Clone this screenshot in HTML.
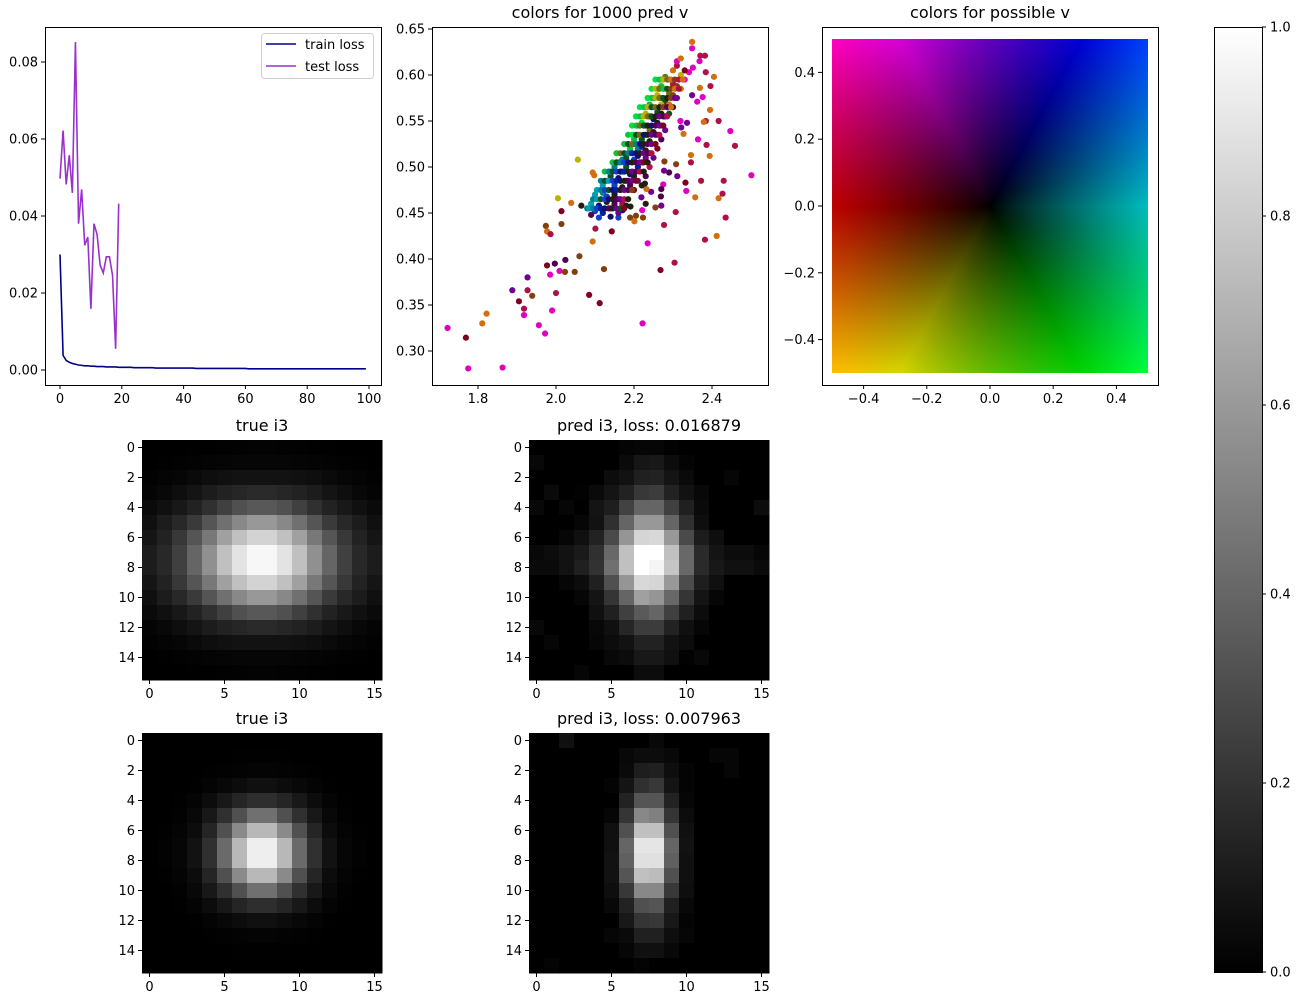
<!DOCTYPE html>
<html><head><meta charset="utf-8">
<style>
html,body{margin:0;padding:0;background:#fff;}
#wrap{position:relative;width:1300px;height:1000px;overflow:hidden;}
svg{position:absolute;left:0;top:0;font-family:"DejaVu Sans","Liberation Sans",sans-serif;}
canvas{position:absolute;}
</style></head>
<body>
<div id="wrap">
<svg id="svg" width="1300" height="1000"></svg>
<canvas id="cmap" width="316" height="334" style="left:832px;top:39px"></canvas>
</div>
<script>
// ---------- data ----------
const testLoss=[0.0497,0.0622,0.0482,0.0558,0.0460,0.0852,0.0380,0.0469,0.0324,0.0345,0.0159,0.0380,0.0352,0.0272,0.0252,0.0294,0.0294,0.0246,0.0055,0.0432];
const trainLoss=[0.0300,0.0038,0.0025,0.0020,0.0017,0.0015,0.0013,0.0012,0.0011,0.0011,0.0010,0.0010,0.0009,0.0009,0.0009,0.0008,0.0008,0.0008,0.0008,0.0007,
0.0007,0.0007,0.0007,0.0007,0.0006,0.0006,0.0006,0.0006,0.0006,0.0006,0.0006,0.0005,0.0005,0.0005,0.0005,0.0005,0.0005,0.0005,0.0005,0.0005,
0.0005,0.0005,0.0005,0.0005,0.0004,0.0004,0.0004,0.0004,0.0004,0.0004,0.0004,0.0004,0.0004,0.0004,0.0004,0.0004,0.0004,0.0004,0.0004,0.0004,
0.0004,0.0003,0.0003,0.0003,0.0003,0.0003,0.0003,0.0003,0.0003,0.0003,0.0003,0.0003,0.0003,0.0003,0.0003,0.0003,0.0003,0.0003,0.0003,0.0003,
0.0003,0.0003,0.0003,0.0003,0.0003,0.0003,0.0003,0.0003,0.0003,0.0003,0.0003,0.0003,0.0003,0.0003,0.0003,0.0003,0.0003,0.0003,0.0003,0.0003];
const lossXTicks=[0,20,40,60,80,100];
const lossYTicks=[0,0.02,0.04,0.06,0.08];

const scPalette=["#e000c0","#b0104a","#800020","#d07010","#804010","#700090","#500050","#101070","#1040d0","#008090","#00a0b0","#10c040","#105020","#707010","#c0b000","#202010","#00e040","#0020a0"];
const scX=[1.722,1.769,1.775,1.863,1.811,1.822,1.888,1.905,1.918,1.918,1.927,1.927,1.939,1.956,1.972,1.977,1.985,1.997,1.990,2.000,2.009,2.023,2.024,2.048,2.060,2.085,2.112,2.123,2.094,2.101,2.143,2.222,2.235,2.268,2.304,2.277,2.307,2.382,2.412,2.435,2.417,2.427,2.430,2.501,2.459,2.447,2.417,2.395,2.372,2.357,2.332,2.334,2.386,2.364,2.394,2.346,2.346,2.311,2.308,2.290,2.277,2.275,2.269,2.270,2.255,2.230,2.221,2.223,2.205,2.190,2.201,2.160,2.171,2.191,2.219,2.244,2.232,2.228,2.270,2.278,2.321,2.336,2.327,2.319,2.384,2.379,2.405,2.384,2.396,2.369,2.349,2.349,2.370,2.382,2.368,2.351,2.341,2.362,2.376,2.349,2.005,2.039,2.056,2.014,2.014,1.974,1.977,1.986,2.065,2.098,2.094,
2.08,2.09,2.10,2.11,2.12,2.13,2.14,2.15,2.10,2.12,2.13,2.15,2.16,2.17,2.09,2.11,2.14,2.18,2.16,2.12,
2.13,2.14,2.15,2.16,2.17,2.18,2.19,2.20,2.14,2.15,2.17,2.18,2.19,2.20,2.21,2.22,2.16,2.17,2.21,2.23,
2.18,2.19,2.20,2.21,2.22,2.23,2.24,2.19,2.20,2.21,2.22,2.23,2.24,2.25,2.20,2.21,2.22,2.23,2.24,2.26,
2.21,2.22,2.23,2.24,2.25,2.26,2.27,2.22,2.23,2.24,2.25,2.26,2.27,2.28,2.23,2.24,2.25,2.26,2.27,2.28,
2.25,2.26,2.27,2.28,2.29,2.30,2.26,2.27,2.28,2.29,2.30,2.31,2.27,2.28,2.29,2.30,2.31,2.32,2.30,2.31,2.32,2.33,2.31,2.32,2.33,2.29,2.27,
2.085,2.095,2.105,2.115,2.125,2.135,2.145,2.155,2.165,2.175,
2.095,2.105,2.115,2.125,2.135,2.145,2.155,2.165,2.175,2.185,
2.105,2.115,2.125,2.135,2.145,2.155,2.165,2.175,2.185,2.195,
2.115,2.125,2.135,2.145,2.155,2.165,2.175,2.185,2.195,2.205,
2.125,2.135,2.145,2.155,2.165,2.175,2.185,2.195,2.205,2.215,2.225,
2.145,2.155,2.165,2.175,2.185,2.195,2.205,2.215,2.225,2.235,
2.155,2.165,2.175,2.185,2.195,2.205,2.215,2.225,2.235,2.245,
2.175,2.185,2.195,2.205,2.215,2.225,2.235,2.245,2.255,
2.185,2.195,2.205,2.215,2.225,2.235,2.245,2.255,2.265,
2.195,2.205,2.215,2.225,2.235,2.245,2.255,2.265,2.275,
2.205,2.215,2.225,2.235,2.245,2.255,2.265,2.275,2.285,
2.215,2.225,2.235,2.245,2.255,2.265,2.275,2.285,2.295,
2.235,2.245,2.255,2.265,2.275,2.285,2.295,2.305,
2.245,2.255,2.265,2.275,2.285,2.295,2.305,2.315,
2.255,2.265,2.275,2.285,2.295,2.305,2.315,2.325];
const scY=[0.325,0.3145,0.281,0.282,0.330,0.3406,0.366,0.354,0.346,0.339,0.380,0.366,0.360,0.328,0.319,0.393,0.383,0.395,0.344,0.363,0.387,0.386,0.399,0.386,0.403,0.361,0.352,0.389,0.419,0.433,0.430,0.330,0.417,0.388,0.396,0.437,0.451,0.421,0.425,0.445,0.466,0.471,0.485,0.491,0.523,0.539,0.550,0.562,0.485,0.467,0.483,0.474,0.524,0.530,0.512,0.513,0.505,0.490,0.503,0.494,0.496,0.481,0.468,0.458,0.456,0.460,0.453,0.445,0.447,0.445,0.441,0.445,0.453,0.457,0.467,0.473,0.476,0.482,0.476,0.506,0.543,0.548,0.536,0.550,0.550,0.549,0.598,0.603,0.588,0.586,0.636,0.629,0.621,0.621,0.615,0.608,0.603,0.571,0.576,0.578,0.466,0.461,0.508,0.452,0.438,0.436,0.430,0.427,0.458,0.491,0.494,
0.455,0.46,0.452,0.458,0.45,0.462,0.455,0.46,0.47,0.472,0.468,0.47,0.465,0.46,0.448,0.445,0.446,0.458,0.45,0.48,
0.485,0.49,0.48,0.488,0.478,0.485,0.48,0.475,0.495,0.5,0.495,0.5,0.492,0.49,0.485,0.48,0.505,0.508,0.5,0.49,
0.51,0.515,0.508,0.512,0.505,0.51,0.5,0.52,0.525,0.52,0.522,0.518,0.515,0.51,0.53,0.535,0.53,0.535,0.528,0.52,
0.545,0.548,0.545,0.54,0.538,0.535,0.53,0.555,0.558,0.555,0.552,0.548,0.545,0.54,0.565,0.568,0.565,0.56,0.558,0.555,
0.575,0.578,0.575,0.57,0.568,0.565,0.585,0.588,0.585,0.58,0.578,0.575,0.595,0.598,0.595,0.59,0.588,0.585,0.605,0.61,0.6,0.605,0.615,0.618,0.595,0.558,0.568,
0.455,0.455,0.455,0.455,0.455,0.455,0.455,0.455,0.455,0.455,
0.465,0.465,0.465,0.465,0.465,0.465,0.465,0.465,0.465,0.465,
0.475,0.475,0.475,0.475,0.475,0.475,0.475,0.475,0.475,0.475,
0.485,0.485,0.485,0.485,0.485,0.485,0.485,0.485,0.485,0.485,
0.495,0.495,0.495,0.495,0.495,0.495,0.495,0.495,0.495,0.495,0.495,
0.505,0.505,0.505,0.505,0.505,0.505,0.505,0.505,0.505,0.505,
0.515,0.515,0.515,0.515,0.515,0.515,0.515,0.515,0.515,0.515,
0.525,0.525,0.525,0.525,0.525,0.525,0.525,0.525,0.525,
0.535,0.535,0.535,0.535,0.535,0.535,0.535,0.535,0.535,
0.545,0.545,0.545,0.545,0.545,0.545,0.545,0.545,0.545,
0.555,0.555,0.555,0.555,0.555,0.555,0.555,0.555,0.555,
0.565,0.565,0.565,0.565,0.565,0.565,0.565,0.565,0.565,
0.575,0.575,0.575,0.575,0.575,0.575,0.575,0.575,
0.585,0.585,0.585,0.585,0.585,0.585,0.585,0.585,
0.595,0.595,0.595,0.595,0.595,0.595,0.595,0.595];
const scC=[0,2,0,0,3,3,5,2,1,0,5,1,4,0,0,2,0,6,0,1,0,4,6,4,4,2,2,4,3,1,2,0,0,2,1,1,1,1,3,1,3,1,1,0,1,0,1,3,1,3,2,0,1,0,3,3,1,5,4,6,5,0,6,5,4,15,0,4,4,4,3,8,7,15,5,5,3,15,6,4,5,5,3,0,1,3,3,1,1,3,3,0,1,1,0,0,0,0,0,5,14,3,14,2,4,4,3,1,15,3,3,
9,10,8,7,17,15,5,6,10,9,8,15,6,1,6,8,7,15,5,10,
9,12,8,7,15,5,6,2,10,9,8,12,7,15,5,15,11,9,17,6,
12,9,8,7,15,5,1,11,12,9,17,15,6,5,11,13,12,7,15,2,
11,16,12,13,15,5,6,11,14,12,7,15,1,5,16,11,13,12,15,6,
11,14,13,12,3,15,16,11,14,13,4,5,16,13,3,1,4,3,3,1,14,2,0,3,0,12,14,
10,9,8,17,7,6,15,5,12,2,
9,10,12,8,7,15,6,5,1,15,
10,9,8,12,7,17,15,5,6,4,
9,12,10,8,17,7,15,6,5,2,
11,9,12,8,7,17,15,5,6,1,15,
11,12,9,8,7,15,6,5,2,15,
11,13,12,9,17,7,15,5,6,1,
11,12,13,9,7,15,6,5,2,
11,16,12,13,7,15,5,6,1,
16,11,13,12,15,7,6,5,2,
16,11,14,13,12,15,5,6,1,
16,11,14,12,13,15,4,6,3,
16,11,14,13,12,15,4,5,
16,14,13,11,12,4,3,1,
16,11,14,13,3,4,1,3];
const scXTicks=[1.8,2.0,2.2,2.4];
const scYTicks=[0.30,0.35,0.40,0.45,0.50,0.55,0.60,0.65];
const sqTicks=[-0.4,-0.2,0.0,0.2,0.4];

const trueA=[
"000000010102020303020201010000 00",
"00010203040506060606050403020100",
"02040 60a0e101212121210 0e0a060402",
"04080e141c22262a2a26221c140e0804",
"0a10182230405058585040302218100a",
"101c283a5570889898887055 3a281c10",
"1522385578a0c0d3d3c0a07855382215",
"1c28406590c0e3f7f7e3c0906540281c",
"1c28406590c0e3f7f7e3c0906540281c",
"1522385578a0c0d3d3c0a07855382215",
"101c283a5570889898887055 3a281c10",
"0a10182230405058585040302218100a",
"04080e141c22262a2a26221c140e0804",
"02040 60a0e101212121210 0e0a060402",
"00010203040506060606050403020100",
"000000010102020303020201010000 00"];
const predA=[
"0000000000000406060200000000 0000",
"08000000000 00a16180c040000000000",
"0000000000 0c1220221 40a00000600 00",
"000a00020a1422383c22120800000000",
"08000600141e42656540200a0000000c",
"0000000612306598986530 0e00000000",
"000006102 24a95d5d8984a1c0e000000",
"080c121a3068c0ffffc0682a140c0c06",
"0a0a12203270c0fff5c5682a1810100a",
"0000060c205095d8d5984c1e10000000",
"00000006143565a09568351406000000",
"00000000102040 5a6540200c00000000",
"080000000810263c3c22100600000000",
"000600000 60c1222221 20c0000000000",
"000000000 0080c18181002080000000000",
"000000060000000c0c00000000000000"];
const trueB=[
"00000000000000000000000000000000",
"00000000000001010101000000000000",
"00000000010203040403020100000000",
"0000000104080c10100c080401000000",
"000001040c18252e2e25180c04010000",
"00000208183050707050301808020000",
"0001040c25508ab8b88a50250c040100",
"00020612306ab8eeeeb86a3012060200",
"00020612306ab8eeeeb86a3012060200",
"0001040c25508ab8b88a50250c040100",
"00000208183050707050301808020000",
"000001040c18252e2e25180c04010000",
"0000000104080c10100c080401000000",
"00000000010203040403020100000000",
"00000000000001010101000000000000",
"00000000000000000000000000000000"];
const predB=[
"00001000000000000800000000000000",
"000000000000080c0c08000006060000",
"0000000000000a1e200e040000060000",
"00000000000414303814040000000000",
"00000000000022555522060000000000",
"000000000006358880350c0000000000",
"000000000010 50c0c050100000000000",
"00000000001065e5e565120000000000",
"00000000001260e0e060100000000000",
"0000000000125 5c0bc50100000000000",
"00000000000e388888380e0000000000",
"00000000000822505520080000000000",
"00000000000018353818040000000000",
"0000000000060a20200e060000000000",
"00000000000006101008000000000000",
"00040000000000040000000000000000"];
const imgTicksY=[0,2,4,6,8,10,12,14];
const imgTicksX=[0,5,10,15];
const cbTicks=[0,0.2,0.4,0.6,0.8,1.0];

// ---------- helpers ----------
const NS="http://www.w3.org/2000/svg";
const svg=document.getElementById('svg');
function mk(tag,attrs,parent){const e=document.createElementNS(NS,tag);for(const k in attrs)e.setAttribute(k,attrs[k]);(parent||svg).appendChild(e);return e;}
function lin(d0,d1,r0,r1){return v=>r0+(v-d0)*(r1-r0)/(d1-d0);}
function txt(x,y,s,anchor,size,name,parent){const t=mk('text',{x:x,y:y,'text-anchor':anchor,'font-size':size,fill:'#000'},parent);t.textContent=s;return t;}
function parseRow(s){s=s.replace(/ /g,'');const out=[];for(let i=0;i<16;i++){const h=s.substr(i*2,2);out.push(h.length===2?parseInt(h,16)||0:0);}return out;}
function frame(x0,y0,x1,y1,name){const r=mk('rect',{x:x0+0.5,y:y0+0.5,width:x1-x0,height:y1-y0,fill:'none',stroke:'#000','stroke-width':1});}
function xtick(g,x,y,label,name){mk('line',{x1:x,y1:y,x2:x,y2:y+4,stroke:'#000'},g);txt(x,y+18,label,'middle',13,name,g);}
function ytick(g,x,y,label,name){mk('line',{x1:x-4,y1:y,x2:x,y2:y,stroke:'#000'},g);txt(x-7,y+4.5,label,'end',13,name,g);}

// ---------- loss plot ----------
(function(){
const g=mk('g',{});
const X=lin(0,100,60,369),Y=lin(0,0.08,370,62);
lossXTicks.forEach(v=>xtick(g,X(v),385,String(v),'loss-x-tick'));
lossYTicks.forEach(v=>ytick(g,45,Y(v),v.toFixed(2),'loss-y-tick'));
const p1=mk('polyline',{points:trainLoss.map((v,i)=>X(i)+','+Y(v)).join(' '),fill:'none',stroke:'#00008b','stroke-width':1.6},g);

const p2=mk('polyline',{points:testLoss.map((v,i)=>X(i)+','+Y(v)).join(' '),fill:'none',stroke:'#9932cc','stroke-width':1.6},g);

const lg=mk('g',{},g);
mk('rect',{x:261.5,y:33.5,width:112,height:45,rx:3,fill:'#fff',stroke:'#d0d0d0'},lg);
mk('line',{x1:266,y1:44,x2:296,y2:44,stroke:'#00008b','stroke-width':1.6},lg);
txt(305,49,'train loss','start',13,'legend-entry-train',lg);
mk('line',{x1:266,y1:66,x2:296,y2:66,stroke:'#9932cc','stroke-width':1.6},lg);
txt(305,71,'test loss','start',13,'legend-entry-test',lg);
frame(45,27,381,385,'loss-axes-frame');
})();

// ---------- scatter ----------
(function(){
const g=mk('g',{});
const X=lin(2.0,2.4,556,712),Y=lin(0.30,0.65,351,29);
scXTicks.forEach(v=>xtick(g,X(v),385,v.toFixed(1),'scatter-x-tick'));
scYTicks.forEach(v=>ytick(g,432,Y(v),v.toFixed(2),'scatter-y-tick'));
for(let i=0;i<scX.length;i++){
 const c=mk('circle',{cx:X(scX[i]),cy:Y(scY[i]),r:3.1,fill:scPalette[scC[i]]},g);
 
 
}
txt(600,18,'colors for 1000 pred v','middle',16,'scatter-title',g);
frame(432,27,768,385,'scatter-axes-frame');
})();

// ---------- color square ----------
(function(){
const g=mk('g',{});
const X=lin(-0.5,0.5,832,1148),Y=lin(-0.5,0.5,373,39);
sqTicks.forEach(v=>xtick(g,X(v),385,v.toFixed(1).replace('-','\u2212'),'square-x-tick'));
sqTicks.forEach(v=>ytick(g,822,Y(v),v.toFixed(1).replace('-','\u2212'),'square-y-tick'));
txt(990,18,'colors for possible v','middle',16,'square-title',g);
frame(822,27,1158,385,'square-axes-frame');
const cv=document.getElementById('cmap'),ctx=cv.getContext('2d'),W=316,H=334,im=ctx.createImageData(W,H);
function hsv(h,s,v){const f=(n)=>{const k=(n+h/60)%6;return v-v*s*Math.max(0,Math.min(k,4-k,1));};return [f(5),f(3),f(1)];}
for(let j=0;j<H;j++)for(let i=0;i<W;i++){
 const u=-0.5+i/W,w=0.5-j/H;const ang=Math.atan2(w,u)*180/Math.PI;
 const h=((180+ang)%360+360)%360;const r=Math.sqrt(u*u+w*w);const v=Math.min(1,Math.pow(r/0.707,0.85));
 const c=hsv(h,1,v);const o=(j*W+i)*4;im.data[o]=c[0]*255;im.data[o+1]=c[1]*255;im.data[o+2]=c[2]*255;im.data[o+3]=255;}
ctx.putImageData(im,0,0);
})();

// ---------- heatmaps ----------
function heat(data,x0,y0,title,name){
 const g=mk('g',{});
 const cs=15;
 data.forEach((row,r)=>{parseRow(row).forEach((v,c)=>{
  const cell=mk('rect',{x:x0+c*cs,y:y0+r*cs,width:cs+0.5,height:cs+0.5,fill:'rgb('+v+','+v+','+v+')'},g);
  
  
 });});
 imgTicksY.forEach(v=>ytick(g,x0,y0+cs*v+7.5,String(v),'heatmap-y-tick'));
 imgTicksX.forEach(v=>xtick(g,x0+cs*v+7.5,y0+240,String(v),'heatmap-x-tick'));
 txt(x0+120,y0-9,title,'middle',16,name+'-title',g);
}
heat(trueA,142,440,'true i3','true-i3-top');
heat(predA,529,440,'pred i3, loss: 0.016879','pred-i3-top');
heat(trueB,142,733,'true i3','true-i3-bottom');
heat(predB,529,733,'pred i3, loss: 0.007963','pred-i3-bottom');

// ---------- colorbar ----------
(function(){
const g=mk('g',{});
const defs=mk('defs',{},g);const lg=mk('linearGradient',{id:'cbg',x1:0,y1:1,x2:0,y2:0},defs);
mk('stop',{offset:0,'stop-color':'#000'},lg);mk('stop',{offset:1,'stop-color':'#fff'},lg);
mk('rect',{x:1214,y:27,width:48,height:945,fill:'url(#cbg)'},g);
const Y=lin(0,1,972,27);
cbTicks.forEach(v=>{const y=Y(v);mk('line',{x1:1262,y1:y,x2:1266,y2:y,stroke:'#000'},g);txt(1270,y+4.5,v.toFixed(1),'start',13,'colorbar-tick',g);});
frame(1214,27,1262,972,'colorbar-frame');
})();
</script>
</body></html>
